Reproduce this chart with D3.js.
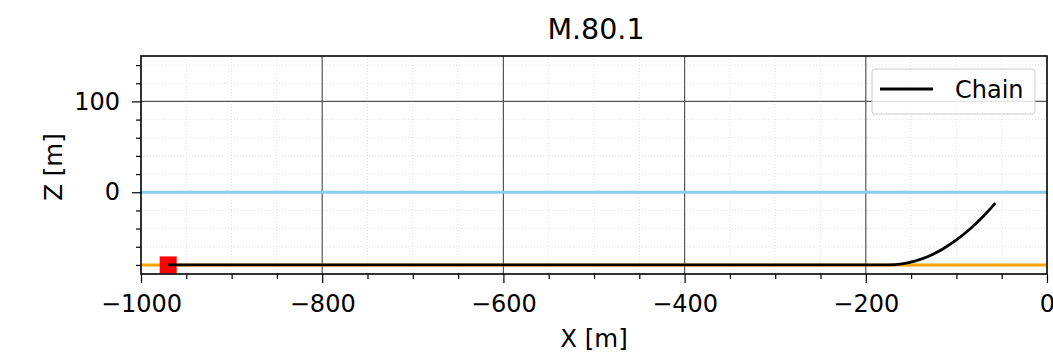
<!DOCTYPE html>
<html>
<head>
<meta charset="utf-8">
<script src="https://cdn.jsdelivr.net/npm/d3@7"></script>
<style>
  body { margin: 0; background: #fff; }
  svg { font-family: "DejaVu Sans", sans-serif; }
</style>
</head>
<body>
<div id="chart"></div>
<script>
// chain line points (X, Z)
const chainX = [-970, -400, -175, -160, -145, -130, -115, -100, -85, -70, -57];
const chainZ = [-80, -80, -80, -78.9, -75.6, -70.1, -62.4, -52.5, -40.5, -26.2, -12];
const anchorX = [-970];
const anchorZ = [-80];
const seabedZ = -80;
const surfaceZ = 0;
const xTicks = [-1000, -800, -600, -400, -200, 0];
const yTicks = [0, 100];
const title = "M.80.1";

const W = 1053, H = 353;
const margin = { top: 56, right: 6, bottom: 79, left: 141 };
const width = W - margin.left - margin.right;
const height = H - margin.top - margin.bottom;

const svg = d3.select("#chart").append("svg")
  .attr("width", W).attr("height", H);

const x = d3.scaleLinear().domain([-1000, 0]).range([0, width]);
const y = d3.scaleLinear().domain([-90, 150]).range([height, 0]);

const g = svg.append("g")
  .attr("transform", "translate(" + margin.left + "," + margin.top + ")");

const fmt = d => (d < 0 ? "\u2212" + Math.abs(d) : "" + d);
const xMinor = d3.range(-1000, 1, 50).filter(v => v % 200 !== 0);
const yMinor = d3.range(-80, 150, 20).filter(v => v % 100 !== 0);

// minor grid
g.append("g").selectAll("line")
  .data(xMinor)
  .join("line")
  .attr("x1", d => x(d)).attr("x2", d => x(d))
  .attr("y1", 0).attr("y2", height)
  .attr("stroke", "#d8d8d8").attr("stroke-width", 0.8).attr("stroke-dasharray", "1,2");
g.append("g").selectAll("line")
  .data(yMinor)
  .join("line")
  .attr("x1", 0).attr("x2", width)
  .attr("y1", d => y(d)).attr("y2", d => y(d))
  .attr("stroke", "#d8d8d8").attr("stroke-width", 0.8).attr("stroke-dasharray", "1,2");

// major grid
g.append("g").selectAll("line")
  .data(xTicks.slice(1, -1))
  .join("line")
  .attr("x1", d => x(d)).attr("x2", d => x(d))
  .attr("y1", 0).attr("y2", height)
  .attr("stroke", "#555").attr("stroke-width", 1.2);
g.append("g").selectAll("line")
  .data(yTicks)
  .join("line")
  .attr("x1", 0).attr("x2", width)
  .attr("y1", d => y(d)).attr("y2", d => y(d))
  .attr("stroke", "#555").attr("stroke-width", 1.2);

// surface and seabed
g.append("line")
  .attr("x1", 0).attr("x2", width)
  .attr("y1", y(surfaceZ)).attr("y2", y(surfaceZ))
  .attr("stroke", "#87ceeb").attr("stroke-width", 3);
g.append("line")
  .attr("x1", 0).attr("x2", width)
  .attr("y1", y(seabedZ)).attr("y2", y(seabedZ))
  .attr("stroke", "#ffa500").attr("stroke-width", 3);

// anchor
g.selectAll(".anchor")
  .data(anchorX.map((v, i) => ({ x: v, z: anchorZ[i] })))
  .join("rect")
  .attr("class", "anchor")
  .attr("x", d => x(d.x) - 8.5).attr("y", d => y(d.z) - 8.5)
  .attr("width", 17).attr("height", 17)
  .attr("fill", "#ff0000");

// chain
const line = d3.line()
  .x(d => x(d.x)).y(d => y(d.z))
  .curve(d3.curveMonotoneX);
g.append("path")
  .datum(chainX.map((v, i) => ({ x: v, z: chainZ[i] })))
  .attr("fill", "none").attr("stroke", "#000").attr("stroke-width", 2.8)
  .attr("d", line);

// axes
g.append("g")
  .attr("transform", "translate(0," + height + ")")
  .call(d3.axisBottom(x).tickValues(xTicks).tickFormat(fmt).tickSize(9).tickPadding(12));
g.append("g")
  .attr("transform", "translate(0," + height + ")")
  .call(d3.axisBottom(x).tickValues(xMinor).tickFormat("").tickSize(5));
g.append("g")
  .call(d3.axisLeft(y).tickValues(yTicks).tickFormat(fmt).tickSize(9).tickPadding(12));
g.append("g")
  .call(d3.axisLeft(y).tickValues(yMinor).tickFormat("").tickSize(5));
g.selectAll(".domain").remove();
g.selectAll(".tick text").attr("font-size", 24).attr("fill", "#000").attr("font-family", "DejaVu Sans");
g.selectAll(".tick line").attr("stroke", "#000").attr("stroke-width", 1.2);

// frame
g.append("rect")
  .attr("width", width).attr("height", height)
  .attr("fill", "none").attr("stroke", "#000").attr("stroke-width", 1.6);

// titles
svg.append("text")
  .attr("x", margin.left + width / 2 + 2).attr("y", 39)
  .attr("text-anchor", "middle").attr("font-size", 28.5)
  .text(title);
svg.append("text")
  .attr("x", margin.left + width / 2).attr("y", 347)
  .attr("text-anchor", "middle").attr("font-size", 24.5)
  .text("X [m]");
svg.append("text")
  .attr("transform", "translate(62," + (margin.top + height / 2 + 2) + ") rotate(-90)")
  .attr("text-anchor", "middle").attr("font-size", 24.5)
  .text("Z [m]");

// legend
const lg = svg.append("g").attr("transform", "translate(872,69)");
lg.append("rect")
  .attr("width", 163).attr("height", 45).attr("rx", 3)
  .attr("fill", "#fff").attr("fill-opacity", 0.85)
  .attr("stroke", "#ccc").attr("stroke-width", 1);
lg.append("line")
  .attr("x1", 8).attr("x2", 61).attr("y1", 20).attr("y2", 20)
  .attr("stroke", "#000").attr("stroke-width", 2.8);
lg.append("text")
  .attr("x", 83).attr("y", 29).attr("font-size", 24)
  .text("Chain");
</script>
</body>
</html>
